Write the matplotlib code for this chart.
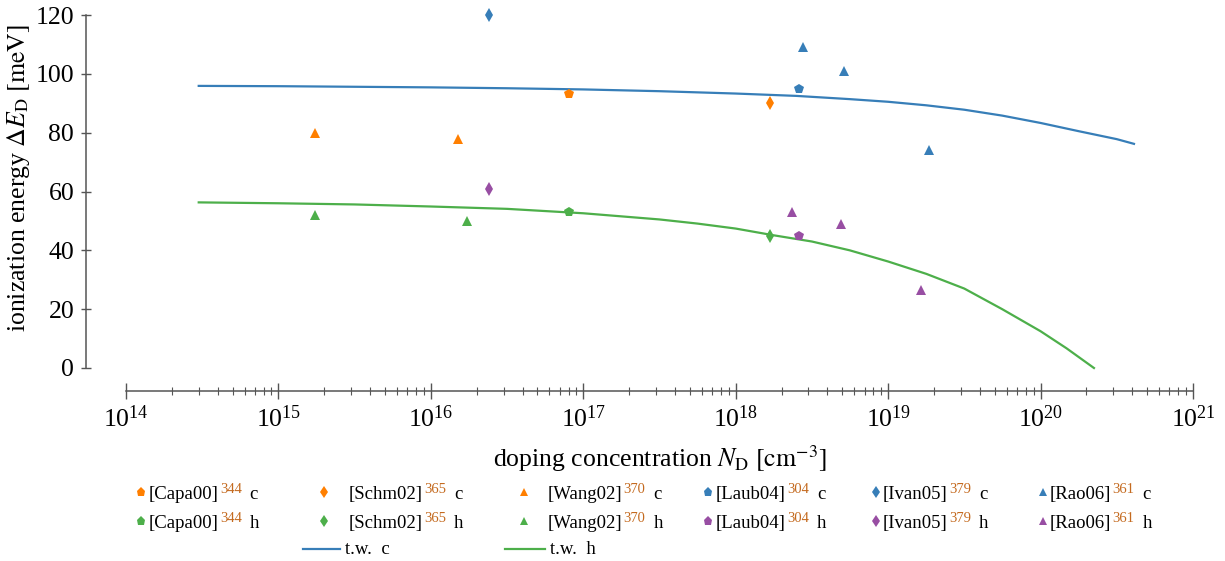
import numpy as np
import matplotlib.pyplot as plt
from matplotlib.lines import Line2D
from matplotlib.ticker import NullFormatter

plt.rcParams['font.family'] = 'serif'
plt.rcParams['font.serif'] = ['Liberation Serif', 'DejaVu Serif']
plt.rcParams['mathtext.fontset'] = 'stix'

# measured data (doping concentration in cm^-3, ionization energy in meV)
capa_n = [8.1e16]
capa_c = [93]
capa_h = [53]

schm_n = [1.68e18]
schm_c = [90]
schm_h = [45]

wang_n_c = [1.74e15, 1.5e16]
wang_c = [80, 78]
wang_n_h = [1.74e15, 1.73e16]
wang_h = [52, 50]

laub_n = [2.6e18]
laub_c = [95]
laub_h = [45]

ivan_n = [2.41e16]
ivan_c = [120]
ivan_h = [61]

rao_n_c = [2.77e18, 5.1e18, 1.86e19]
rao_c = [109, 101, 74]
rao_n_h = [2.35e18, 4.9e18, 1.64e19]
rao_h = [53, 49, 26.5]

# this work (model curves)
tw_n_c = [3e14, 1e15, 3.16e15, 1e16, 3.16e16, 1e17, 3.16e17, 1e18, 2.5e18, 5.6e18,
          1e19, 1.78e19, 3.16e19, 5.6e19, 1e20, 1.78e20, 3.16e20, 4.1e20]
tw_c = [95.9, 95.8, 95.6, 95.4, 95.1, 94.7, 94.1, 93.3, 92.5, 91.4,
        90.5, 89.3, 87.8, 85.8, 83.3, 80.5, 77.8, 76.2]
tw_n_h = [3e14, 1e15, 3.16e15, 1e16, 3.16e16, 1e17, 3.16e17, 5.6e17, 1e18, 1.78e18,
          3.16e18, 5.6e18, 1e19, 1.78e19, 3.16e19, 5.6e19, 1e20, 1.48e20, 2.24e20]
tw_h = [56.3, 56.0, 55.6, 54.9, 54.1, 52.6, 50.5, 49.1, 47.4, 45.1,
        43.0, 40.0, 36.2, 32.0, 27.0, 20.0, 12.5, 6.7, 0.0]

x_ticks = [1e14, 1e15, 1e16, 1e17, 1e18, 1e19, 1e20, 1e21]
y_ticks = [0, 20, 40, 60, 80, 100, 120]

# legend text
refs = ['Capa00', 'Schm02', 'Wang02', 'Laub04', 'Ivan05', 'Rao06']
ref_nums = ['344', '365', '370', '304', '379', '361']

blue, green, orange, purple = '#377eb8', '#4daf4a', '#ff7f00', '#984ea3'
ref_color = '#c46a1f'
axis_color = '#555555'

W, H = 1225, 561
fig = plt.figure(figsize=(W / 100, H / 100), dpi=100)
ax = fig.add_axes([126 / W, 1 - 368 / H, (1193 - 126) / W, (368 - 15) / H])

ax.plot(tw_n_c, tw_c, color=blue, lw=1.6, clip_on=False)
ax.plot(tw_n_h, tw_h, color=green, lw=1.6, clip_on=False)

series = [
    (capa_n, capa_c, 'p', orange), (schm_n, schm_c, 'd', orange), (wang_n_c, wang_c, '^', orange),
    (laub_n, laub_c, 'p', blue), (ivan_n, ivan_c, 'd', blue), (rao_n_c, rao_c, '^', blue),
    (capa_n, capa_h, 'p', green), (schm_n, schm_h, 'd', green), (wang_n_h, wang_h, '^', green),
    (laub_n, laub_h, 'p', purple), (ivan_n, ivan_h, 'd', purple), (rao_n_h, rao_h, '^', purple),
]
msizes = {'p': 7.5, 'd': 7.5, '^': 7}
for n, v, m, c in series:
    ax.plot(n, v, ls='none', marker=m, ms=msizes[m], color=c, mew=0, clip_on=False, zorder=3)

ax.set_xscale('log')
ax.set_xlim(1e14, 1e21)
ax.set_ylim(0, 120)
ax.set_xticks(x_ticks)
ax.set_yticks(y_ticks)
ax.xaxis.set_minor_formatter(NullFormatter())

for s in ['top', 'right']:
    ax.spines[s].set_visible(False)
ax.spines['left'].set_position(('outward', 40 * 0.72))
ax.spines['bottom'].set_position(('outward', 23 * 0.72))
for s in ['left', 'bottom']:
    ax.spines[s].set_color(axis_color)
    ax.spines[s].set_linewidth(1.1)

ax.tick_params(axis='both', which='both', direction='inout', color=axis_color,
               labelcolor='black', labelsize=18.5)
ax.tick_params(axis='x', which='major', length=11, width=1, pad=5)
ax.tick_params(axis='x', which='minor', length=6, width=0.8)
ax.tick_params(axis='y', which='major', length=7, width=1, pad=5)

ax.set_ylabel(r'ionization energy $\Delta E_{\mathrm{D}}$ $[\mathrm{meV}]$', fontsize=18.5)
ax.yaxis.set_label_coords((32 - 126) / 1067, (368 - 178) / 353)
ax.set_xlabel(r'doping concentration $N_{\mathrm{D}}$ $\left[\mathrm{cm}^{-3}\right]$', fontsize=18.5,
              labelpad=8)

# legend, built by hand so the reference numbers can be coloured
col_marker_x = [141, 324, 524, 708, 876, 1043]
col_text_x = [149, 349, 548, 716, 883, 1050]
row_base_y = [499, 528]
legend_fs = 13.5


def fx(px):
    return px / W


def fy(py):
    return 1 - py / H


renderer = fig.canvas.get_renderer()
row_specs = [('c', [orange, orange, orange, blue, blue, blue]),
             ('h', [green, green, green, purple, purple, purple])]
markers = ['p', 'd', '^', 'p', 'd', '^']
for r, (suffix, colors) in enumerate(row_specs):
    yb = row_base_y[r]
    for i in range(6):
        fig.add_artist(Line2D([fx(col_marker_x[i])], [fy(yb - 7)], transform=fig.transFigure,
                              marker=markers[i], ms=msizes[markers[i]] - 1, mew=0,
                              color=colors[i], ls='none'))
        t1 = fig.text(fx(col_text_x[i]), fy(yb), '[' + refs[i] + ']', fontsize=legend_fs,
                      va='baseline', ha='left')
        b1 = t1.get_window_extent(renderer)
        t2 = fig.text((b1.x1 + 1) / W, (b1.y1 + 3) / H, ref_nums[i], fontsize=10.5,
                      color=ref_color, va='top', ha='left')
        b2 = t2.get_window_extent(renderer)
        fig.text((b2.x1 + 8) / W, fy(yb), suffix, fontsize=legend_fs, va='baseline', ha='left')

tw_legend = [(303, 340, blue, 't.w.  c'), (505, 545, green, 't.w.  h')]
for x0, x1, c, lab in tw_legend:
    fig.add_artist(Line2D([fx(x0), fx(x1)], [fy(549), fy(549)], transform=fig.transFigure,
                          color=c, lw=1.6))
    fig.text(fx(x1 + 5), fy(554), lab, fontsize=legend_fs, va='baseline', ha='left')

fig.savefig('out.png', dpi=100)
